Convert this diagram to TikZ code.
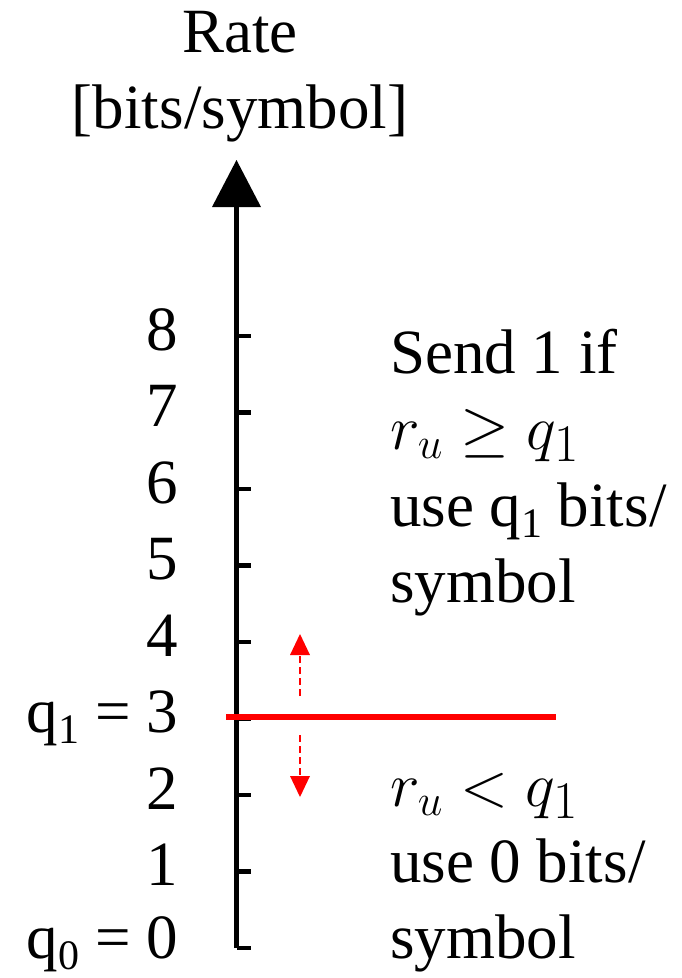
\RequirePackage{fix-cm}
\documentclass[tikz,border=0pt]{standalone}
\usepackage{fontspec}
\setmainfont{Liberation Serif}
\newfontfamily\tnr{Liberation Serif}
\usetikzlibrary{arrows.meta}
\newcommand\lowsub[1]{\raisebox{-11pt}{\fontsize{42}{42}\selectfont #1}}
\begin{document}
\begin{tikzpicture}[x=1pt,y=-1pt,
  every node/.style={inner sep=0pt, outer sep=0pt, font=\tnr\fontsize{63}{76.5}\selectfont},
  axisline/.style={line width=5pt, -{Triangle[width=49pt,length=47pt,line width=0pt]}},
  tickline/.style={line width=4.5pt},
  thresh/.style={red, line width=6pt},
  moveline/.style={red, line width=2.5pt, dash pattern=on 7pt off 4pt, -{Triangle[width=20pt,length=21pt,line width=0pt]}},
  lab/.style={anchor=base east},
  txt/.style={anchor=base west},
  ttl/.style={anchor=base}]
\useasboundingbox (0,0) rectangle (681,978);
% title
\node[ttl] (title1) at (240,52) {Rate};
\node[ttl] (title2) at (240,128) {[bits/symbol]};
% axis
\coordinate (axbot) at (236.5,948);
\coordinate (axtop) at (236.5,160);
\draw[axisline] (axbot) -- (axtop);
% ticks and labels
\foreach \v in {0,...,8} {
  \coordinate (t\v) at (236.5,948-76.5*\v);
  \draw[tickline] (t\v) -- ++(14,0);
}
\foreach \v in {1,2,4,5,6,7,8} {
  \node[lab] (l\v) at (178,962-76.5*\v) {\v};
}
\node[lab] (l3) at (178,732.5) {q\lowsub{1} = 3};
\node[lab] (l0) at (178,958) {q\lowsub{0} = 0};
% threshold line
\coordinate (thL) at (226,716.5);
\coordinate (thR) at (556,716.5);
\draw[thresh] (thL) -- (thR);
% red dashed arrows
\coordinate (upS) at (300,696);
\coordinate (upE) at (300,634);
\coordinate (dnS) at (300,735);
\coordinate (dnE) at (300,797);
\draw[moveline] (upS) -- (upE);
\draw[moveline] (dnS) -- (dnE);
% upper text
\node[txt] (u1) at (390,373) {Send 1 if};
\node[txt] (u2) at (390,449.5) {$r_u \geq q_{\scalebox{1.2}{$\scriptstyle 1$}}$};
\node[txt] (u3) at (390,526) {use q\lowsub{1} bits/};
\node[txt] (u4) at (390,602.5) {symbol};
% lower text
\node[txt] (d1) at (390,806) {$r_u < q_{\scalebox{1.2}{$\scriptstyle 1$}}$};
\node[txt] (d2) at (390,882) {use 0 bits/};
\node[txt] (d3) at (390,958.5) {symbol};
\end{tikzpicture}
\end{document}
